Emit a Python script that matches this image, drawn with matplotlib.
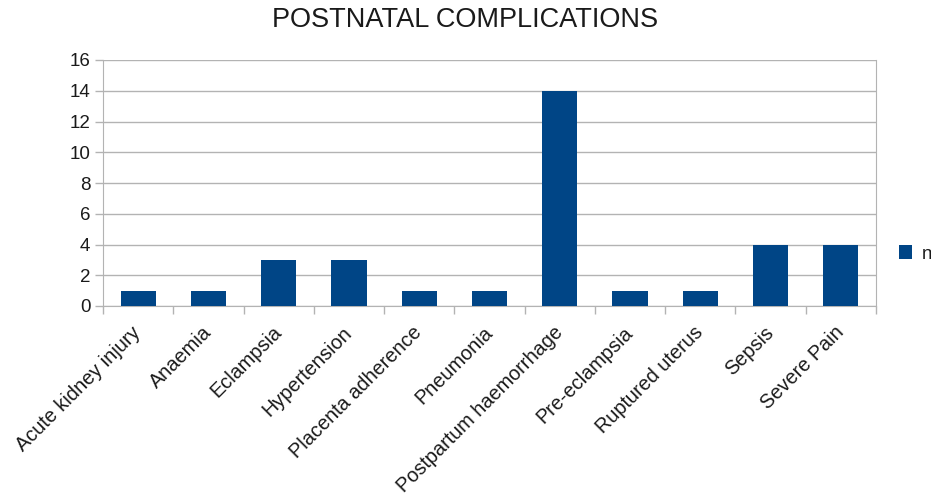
import numpy as np
from matplotlib import pyplot as plt

plt.rcParams['font.family'] = ['Liberation Sans', 'DejaVu Sans']

categories = ['Acute kidney injury', 'Anaemia', 'Eclampsia', 'Hypertension',
              'Placenta adherence', 'Pneumonia', 'Postpartum haemorrhage',
              'Pre-eclampsia', 'Ruptured uterus', 'Sepsis', 'Severe Pain']
counts = [1, 1, 3, 3, 1, 1, 14, 1, 1, 4, 4]

fig = plt.figure(figsize=(9.31, 4.96), dpi=100)
ax = fig.add_axes([103 / 931, 1 - 306 / 496, (876 - 103) / 931, (306 - 60) / 496])

x = np.arange(len(categories))
bars = ax.bar(x, counts, width=0.5, color='#004586', label='n', zorder=3)

ax.set_xlim(-0.5, len(categories) - 0.5)
ax.set_ylim(0, 16)
ax.set_yticks(range(0, 17, 2))
ax.yaxis.grid(True, color='#b3b3b3', linewidth=1, zorder=0)

ax.set_xticks(x)
ax.set_xticklabels(categories, rotation=45, ha='right', va='center',
                   rotation_mode='anchor', fontsize=14.3, color='#1a1a1a')
ax.set_xticks(np.arange(-0.5, len(categories)), minor=True)
ax.tick_params(axis='x', which='major', length=0, pad=17)
ax.tick_params(axis='x', which='minor', length=6, color='#b3b3b3', width=1)
ax.tick_params(axis='y', length=6, color='#b3b3b3', width=1, labelsize=13.5,
               labelcolor='#1a1a1a', pad=3)

for s in ax.spines.values():
    s.set_color('#b3b3b3')
ax.spines['top'].set_visible(False)

fig.suptitle('POSTNATAL COMPLICATIONS', fontsize=19.5, y=0.985, color='#1a1a1a')
fig.legend(handles=[bars], loc='center left', bbox_to_anchor=(0.966, 0.488),
           frameon=False, fontsize=13.5, handlelength=0.7, handleheight=0.7,
           handletextpad=0.5, borderpad=0, borderaxespad=0, labelcolor='#1a1a1a')

plt.savefig('out.png')
